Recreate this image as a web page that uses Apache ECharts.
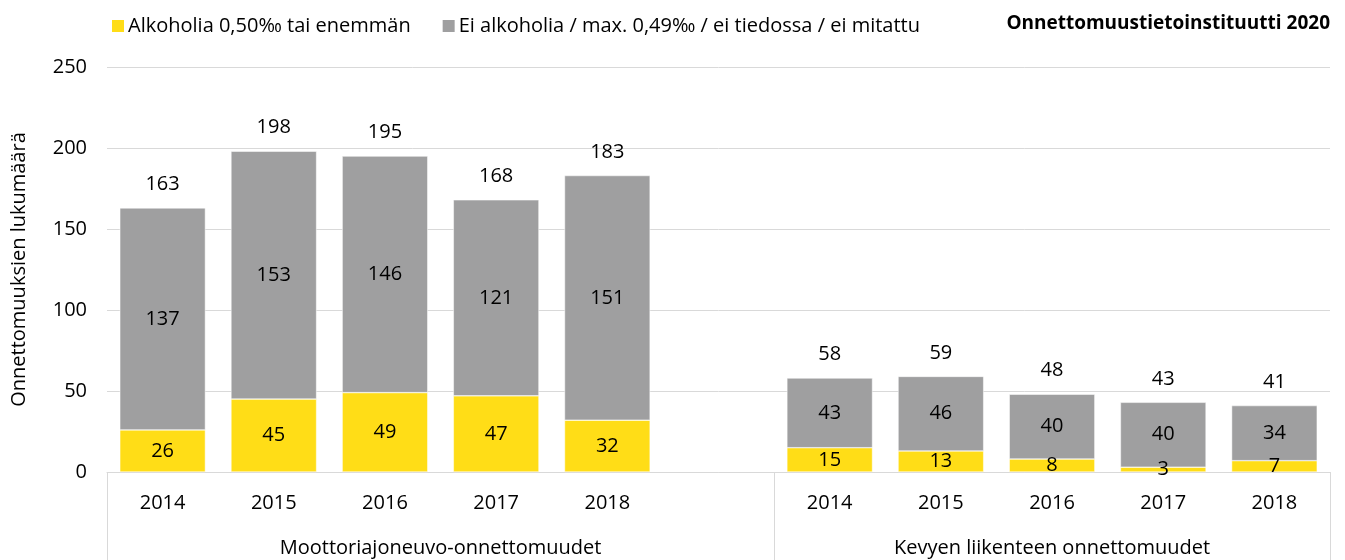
<!DOCTYPE html>
<html>
<head>
<meta charset="utf-8">
<script src="https://cdn.jsdelivr.net/npm/echarts@6/dist/echarts.min.js"></script>
<style>html,body{margin:0;padding:0;background:#fff}#c{width:1345px;height:560px}</style>
</head>
<body>
<div id="c"></div>
<script>
const categories = ['2014','2015','2016','2017','2018','','2014','2015','2016','2017','2018'];
const alcohol = [26,45,49,47,32,null,15,13,8,3,7];
const noAlcohol = [137,153,146,121,151,null,43,46,40,40,34];
const totals = [163,198,195,168,183,null,58,59,48,43,41];
const groupLabels = ['Moottoriajoneuvo-onnettomuudet','Kevyen liikenteen onnettomuudet'];
const groupCenters = [3, 8.5];
const groupBounds = [0, 6, 11];
const yTicks = {min:0, max:250, interval:50};
const seriesNames = ['Alkoholia 0,50‰ tai enemmän','Ei alkoholia / max. 0,49‰ / ei tiedossa / ei mitattu'];
const sourceText = 'Onnettomuustietoinstituutti 2020';

const FONT = '"Open Sans", "Noto Sans", sans-serif';
const FS = 20;
const chart = echarts.init(document.getElementById('c'));
chart.setOption({
  animation:false,
  textStyle:{fontFamily:FONT, color:'#000'},
  title:{text:sourceText, right:10, top:9, textStyle:{fontFamily:FONT, fontSize:19, fontWeight:'bold', color:'#000'}},
  legend:{data:seriesNames, left:105, top:11, itemWidth:14, itemHeight:14, itemGap:30,
    textStyle:{fontFamily:FONT, fontSize:FS, color:'#000', padding:[0,0,0,-2]}, icon:'rect'},
  grid:{left:107, right:15, top:67, bottom:88},
  xAxis:[{
    type:'category', data:categories,
    axisLine:{lineStyle:{color:'#d9d9d9'}},
    axisTick:{show:false},
    axisLabel:{fontSize:FS, color:'#000', margin:21, fontFamily:FONT}
  },{
    type:'value', min:0, max:11, position:'bottom',
    axisLine:{show:false},
    splitLine:{show:false},
    axisTick:{show:true, customValues:groupBounds, length:90, lineStyle:{color:'#d9d9d9'}},
    axisLabel:{customValues:groupCenters, fontSize:FS, color:'#000', margin:66, fontFamily:FONT,
      formatter:function(v){ const i = groupCenters.indexOf(v); return i>=0 ? groupLabels[i] : ''; }}
  }],
  yAxis:{type:'value', min:yTicks.min, max:yTicks.max, interval:yTicks.interval,
    name:'Onnettomuuksien lukumäärä', nameLocation:'middle', nameGap:78, nameRotate:90,
    nameTextStyle:{fontSize:FS, color:'#000', fontFamily:FONT},
    axisLine:{show:false}, axisTick:{show:false},
    axisLabel:{fontSize:FS, color:'#000', margin:20, fontFamily:FONT},
    splitLine:{lineStyle:{color:'#d9d9d9'}}},
  series:[{
    name:seriesNames[0], type:'bar', stack:'a', data:alcohol, barCategoryGap:'23%',
    itemStyle:{color:'#FFDD17', borderColor:'#fff', borderWidth:0.5},
    label:{show:true, position:'inside', fontSize:FS, color:'#000', fontFamily:FONT}
  },{
    name:seriesNames[1], type:'bar', stack:'a', data:noAlcohol,
    itemStyle:{color:'#9F9FA0', borderColor:'#fff', borderWidth:0.5},
    label:{show:true, position:'inside', fontSize:FS, color:'#000', fontFamily:FONT}
  },{
    name:'total', type:'scatter', data:totals, symbolSize:1, itemStyle:{color:'rgba(0,0,0,0)', opacity:1},
    label:{show:true, position:'top', distance:13, fontSize:FS, color:'#000', fontFamily:FONT},
    silent:true
  }]
});
</script>
</body>
</html>
